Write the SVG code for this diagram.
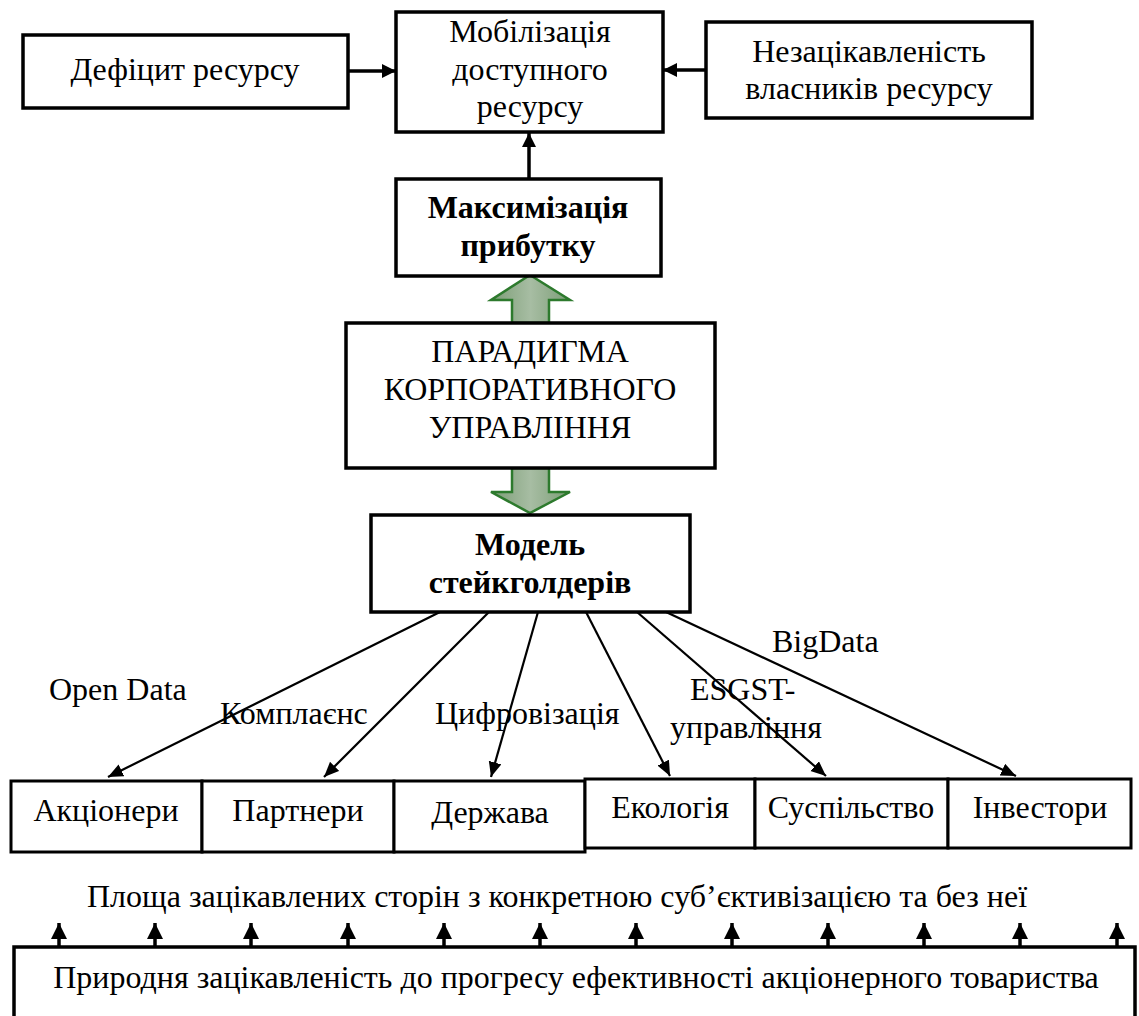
<svg xmlns="http://www.w3.org/2000/svg" width="1139" height="1016" viewBox="0 0 1139 1016">
<style>
text{font-family:"Liberation Serif","Times New Roman",serif;font-size:32px;fill:#000;text-anchor:middle}
.b{font-weight:bold}
.box{fill:#fff;stroke:#000;stroke-width:3.5}
.cell{fill:#fff;stroke:#000;stroke-width:3}
.thick{stroke:#000;stroke-width:3.5;fill:none}
.thin{stroke:#000;stroke-width:2.2;fill:none}
.blk{fill:url(#g);stroke:#2d7a2d;stroke-width:2.5}
.lbl{text-anchor:start}
</style>
<defs>
<marker id="ah" markerUnits="userSpaceOnUse" markerWidth="16" markerHeight="16" refX="14" refY="7" orient="auto"><path d="M0,0 L14,7 L0,14 z" fill="#000"/></marker>
<marker id="ah2" markerUnits="userSpaceOnUse" markerWidth="16" markerHeight="16" refX="15" refY="6.5" orient="auto"><path d="M0,0 L15,6.5 L0,13 z" fill="#000"/></marker>
<marker id="ah3" markerUnits="userSpaceOnUse" markerWidth="18" markerHeight="18" refX="16" refY="8" orient="auto"><path d="M0,0 L16,8 L0,16 z" fill="#000"/></marker>
<linearGradient id="g" x1="0" y1="0" x2="1" y2="0">
<stop offset="0" stop-color="#7c9d76"/>
<stop offset="0.5" stop-color="#a7bda3"/>
<stop offset="1" stop-color="#7c9d76"/>
</linearGradient>
</defs>

<g id="connectors">
<line class="thick" x1="348" y1="71" x2="396" y2="71" marker-end="url(#ah)"/>
<line class="thick" x1="706" y1="70" x2="663" y2="70" marker-end="url(#ah)"/>
<line class="thick" x1="529" y1="179" x2="529" y2="133" marker-end="url(#ah)"/>
<polygon class="blk" points="530,275 570,300 549,300 549,323 512,323 512,300 491,300"/>
<polygon class="blk" points="512,468 549,468 549,492 570,492 530,513 491,492 512,492"/>
<line class="thin" x1="440" y1="612" x2="108" y2="777" marker-end="url(#ah2)"/>
<line class="thin" x1="489" y1="612" x2="324" y2="777" marker-end="url(#ah2)"/>
<line class="thin" x1="538" y1="612" x2="491" y2="777" marker-end="url(#ah2)"/>
<line class="thin" x1="586" y1="612" x2="670" y2="776" marker-end="url(#ah2)"/>
<line class="thin" x1="637" y1="612" x2="826" y2="776" marker-end="url(#ah2)"/>
<line class="thin" x1="666" y1="612" x2="1016" y2="776" marker-end="url(#ah2)"/>
<g class="thick">
<line x1="59" y1="947" x2="59" y2="923" marker-end="url(#ah3)"/>
<line x1="155" y1="947" x2="155" y2="923" marker-end="url(#ah3)"/>
<line x1="251" y1="947" x2="251" y2="923" marker-end="url(#ah3)"/>
<line x1="348" y1="947" x2="348" y2="923" marker-end="url(#ah3)"/>
<line x1="444" y1="947" x2="444" y2="923" marker-end="url(#ah3)"/>
<line x1="540" y1="947" x2="540" y2="923" marker-end="url(#ah3)"/>
<line x1="636" y1="947" x2="636" y2="923" marker-end="url(#ah3)"/>
<line x1="732" y1="947" x2="732" y2="923" marker-end="url(#ah3)"/>
<line x1="828" y1="947" x2="828" y2="923" marker-end="url(#ah3)"/>
<line x1="924" y1="947" x2="924" y2="923" marker-end="url(#ah3)"/>
<line x1="1020" y1="947" x2="1020" y2="923" marker-end="url(#ah3)"/>
<line x1="1117" y1="947" x2="1117" y2="923" marker-end="url(#ah3)"/>
</g>
<text class="lbl" x="49" y="700">Open Data</text>
<text class="lbl" x="220" y="724">Комплаєнс</text>
<text class="lbl" x="435" y="724">Цифровізація</text>
<text class="lbl" x="690" y="700">ESGST-</text>
<text class="lbl" x="670" y="738">управління</text>
<text class="lbl" x="772" y="652">BigData</text>
</g>

<g id="deficit">
<rect class="box" x="23" y="35" width="325" height="73"/>
<text x="185" y="80">Дефіцит ресурсу</text>
</g>
<g id="mobilization">
<rect class="box" x="396" y="12" width="267" height="120"/>
<text x="530" y="42">Мобілізація</text>
<text x="530" y="80">доступного</text>
<text x="530" y="117">ресурсу</text>
</g>
<g id="disinterest">
<rect class="box" x="706" y="22" width="326" height="96"/>
<text x="869" y="62">Незацікавленість</text>
<text x="869" y="99">власників ресурсу</text>
</g>
<g id="maximization">
<rect class="box" x="396" y="179" width="265" height="97"/>
<text class="b" x="528" y="218">Максимізація</text>
<text class="b" x="528" y="256">прибутку</text>
</g>
<g id="paradigm">
<rect class="box" x="346" y="323" width="369" height="145"/>
<text x="530" y="362">ПАРАДИГМА</text>
<text x="530" y="400">КОРПОРАТИВНОГО</text>
<text x="530" y="438">УПРАВЛІННЯ</text>
</g>
<g id="model">
<rect class="box" x="371" y="515" width="319" height="97"/>
<text class="b" x="530" y="555">Модель</text>
<text class="b" x="530" y="593">стейкголдерів</text>
</g>
<g id="shareholders">
<rect class="cell" x="11" y="781" width="191" height="71"/>
<text x="106" y="821">Акціонери</text>
</g>
<g id="partners">
<rect class="cell" x="202" y="781" width="192" height="71"/>
<text x="298" y="821">Партнери</text>
</g>
<g id="state">
<rect class="cell" x="394" y="781" width="191" height="71"/>
<text x="490" y="823">Держава</text>
</g>
<g id="ecology">
<rect class="cell" x="585" y="779" width="170" height="69"/>
<text x="670" y="818">Екологія</text>
</g>
<g id="society">
<rect class="cell" x="755" y="779" width="193" height="69"/>
<text x="851" y="818">Суспільство</text>
</g>
<g id="investors">
<rect class="cell" x="948" y="779" width="183" height="69"/>
<text x="1040" y="818">Інвестори</text>
</g>
<g id="area-caption">
<text x="557" y="907">Площа зацікавлених сторін з конкретною суб’єктивізацією та без неї</text>
</g>
<g id="natural-interest">
<rect class="box" x="14" y="947" width="1121" height="90"/>
<text x="576" y="988">Природня зацікавленість до прогресу ефективності акціонерного товариства</text>
</g>
</svg>
